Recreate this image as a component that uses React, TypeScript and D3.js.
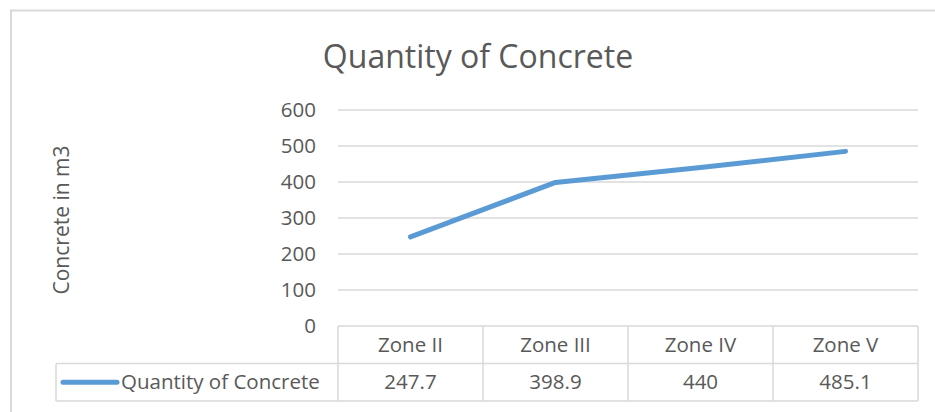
import * as d3 from 'd3';

const zones = ['Zone II', 'Zone III', 'Zone IV', 'Zone V'];
const concrete = [247.7, 398.9, 440, 485.1];
const concreteLabels = ['247.7', '398.9', '440', '485.1'];
const yTicks = [0, 100, 200, 300, 400, 500, 600];
const seriesName = 'Quantity of Concrete';

const W = 935;
const H = 412;
const plot = { left: 338, right: 918, top: 110, bottom: 326 };
const rowH = 37.5;
const font = "'Open Sans', sans-serif";
const textColor = '#595959';
const gridColor = '#d9d9d9';
const lineColor = '#5b9bd5';
const fs = 20.5;

export default function App() {
  const x = d3.scaleBand<string>().domain(zones).range([plot.left, plot.right]);
  const y = d3.scaleLinear().domain([0, 600]).range([plot.bottom, plot.top]);

  const line = d3
    .line<number>()
    .x((_, i) => x(zones[i])! + x.bandwidth() / 2)
    .y(d => y(d));

  const headerTop = plot.bottom;
  const valueTop = headerTop + rowH;
  const tableBottom = valueTop + rowH;
  const legendLeft = 56;

  return (
    <svg
      width={W}
      height={H}
      style={{ position: 'absolute', left: 0, top: 0, background: '#fff' }}
      fontFamily={font}
    >
      {/* chart frame */}
      <rect x={11} y={10.5} width={W + 20} height={H + 20} fill="#fff" stroke={gridColor} strokeWidth={2} />

      <text x={478} y={68} textAnchor="middle" fontSize={32} fill={textColor}>
        {seriesName}
      </text>

      {/* gridlines + y ticks */}
      {yTicks.map(t => (
        <g key={t}>
          {t > 0 && (
            <line x1={plot.left} x2={plot.right} y1={y(t)} y2={y(t)} stroke={gridColor} strokeWidth={1.5} />
          )}
          <text x={316} y={y(t)} dy="0.35em" textAnchor="end" fontSize={fs} fill={textColor}>
            {t}
          </text>
        </g>
      ))}

      <text
        transform={`translate(69,${(plot.top + plot.bottom) / 2 + 2}) rotate(-90)`}
        textAnchor="middle"
        fontSize={21}
        fill={textColor}
      >
        Concrete in m3
      </text>

      {/* data table */}
      <g stroke={gridColor} strokeWidth={1.5} fill="none">
        <line x1={plot.left} x2={plot.right} y1={headerTop} y2={headerTop} />
        <line x1={legendLeft} x2={plot.right} y1={valueTop} y2={valueTop} />
        <line x1={legendLeft} x2={plot.right} y1={tableBottom} y2={tableBottom} />
        <line x1={legendLeft} x2={legendLeft} y1={valueTop} y2={tableBottom} />
        {zones.map(z => (
          <line key={z} x1={x(z)!} x2={x(z)!} y1={headerTop} y2={tableBottom} />
        ))}
        <line x1={plot.right} x2={plot.right} y1={headerTop} y2={tableBottom} />
      </g>
      {zones.map((z, i) => (
        <g key={z} fontSize={fs} fill={textColor} textAnchor="middle">
          <text x={x(z)! + x.bandwidth() / 2} y={headerTop + rowH / 2} dy="0.35em">
            {z}
          </text>
          <text x={x(z)! + x.bandwidth() / 2} y={valueTop + rowH / 2} dy="0.35em">
            {concreteLabels[i]}
          </text>
        </g>
      ))}

      {/* legend key in table */}
      <line
        x1={63}
        x2={117}
        y1={valueTop + rowH / 2}
        y2={valueTop + rowH / 2}
        stroke={lineColor}
        strokeWidth={5}
        strokeLinecap="round"
      />
      <text x={121} y={valueTop + rowH / 2} dy="0.35em" fontSize={fs} fill={textColor}>
        {seriesName}
      </text>

      <path
        d={line(concrete) || ''}
        fill="none"
        stroke={lineColor}
        strokeWidth={5}
        strokeLinecap="round"
        strokeLinejoin="round"
      />
    </svg>
  );
}
